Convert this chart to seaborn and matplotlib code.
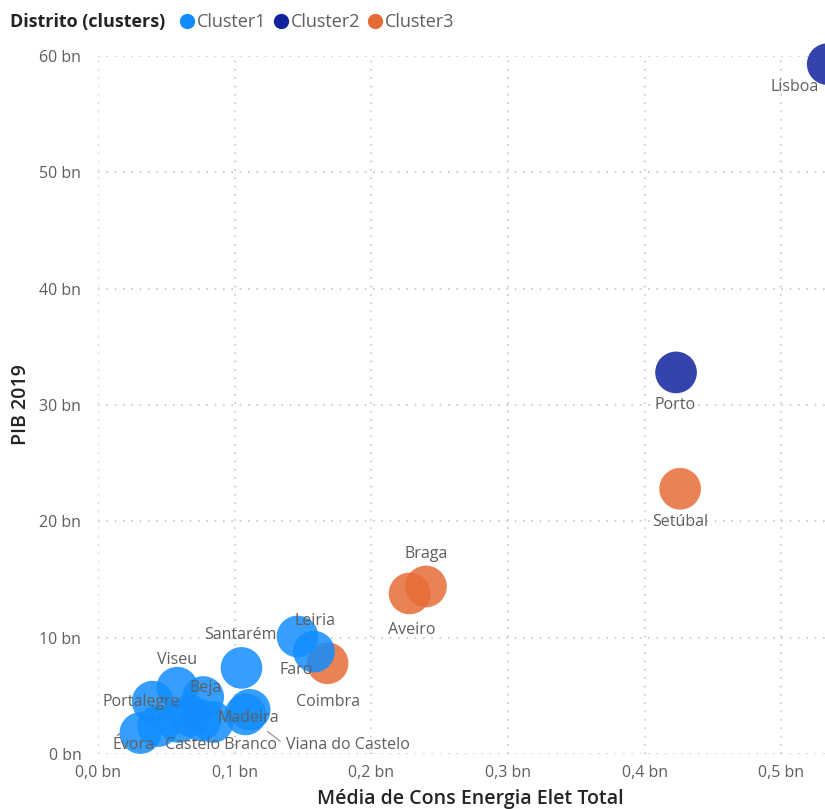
"""
PIB 2019 vs média de consumo de energia elétrica por distrito (clusters)
"""

import pandas as pd
import numpy as np
import matplotlib
matplotlib.use('Agg')
import matplotlib.pyplot as plt
from matplotlib.lines import Line2D
import seaborn as sns

# Data
distritos = ['Lisboa', 'Porto', 'Setúbal', 'Braga', 'Aveiro', 'Coimbra',
             'Leiria', 'Faro', 'Santarém', 'Madeira', 'Viana do Castelo',
             'Viseu', 'Beja', 'Portalegre', 'Évora', 'Castelo Branco',
             'Bragança', 'Guarda', 'Vila Real', 'Açores']
energia = [0.534, 0.423, 0.426, 0.240, 0.228, 0.168,
           0.146, 0.158, 0.105, 0.111, 0.108,
           0.058, 0.077, 0.040, 0.031, 0.084,
           0.044, 0.059, 0.075, 0.067]
pib = [59.3, 32.8, 22.8, 14.4, 13.8, 7.8,
       10.1, 8.8, 7.4, 3.8, 3.4,
       5.7, 4.9, 4.5, 1.8, 2.75,
       2.4, 2.75, 2.9, 3.3]
cluster = ['Cluster2', 'Cluster2', 'Cluster3', 'Cluster3', 'Cluster3', 'Cluster3',
           'Cluster1', 'Cluster1', 'Cluster1', 'Cluster1', 'Cluster1',
           'Cluster1', 'Cluster1', 'Cluster1', 'Cluster1', 'Cluster1',
           'Cluster1', 'Cluster1', 'Cluster1', 'Cluster1']
clusters = ['Cluster1', 'Cluster2', 'Cluster3']
x_ticks = [0.0, 0.1, 0.2, 0.3, 0.4, 0.5]
y_ticks = [0, 10, 20, 30, 40, 50, 60]

df = pd.DataFrame({'Distrito': distritos, 'Energia': energia,
                   'PIB': pib, 'Cluster': cluster})

# Label offsets in pixels relative to the bubble (unlisted = no label)
label_offsets = {
    'Lisboa': (-33, -23), 'Porto': (-1, -33), 'Setúbal': (0, -33),
    'Braga': (0, 32), 'Aveiro': (2, -37), 'Coimbra': (0, -39),
    'Leiria': (17, 16), 'Faro': (-18, -18), 'Santarém': (-1, 33),
    'Madeira': (-1, -8), 'Viana do Castelo': (102, -31),
    'Viseu': (0, 28), 'Beja': (2, 9), 'Portalegre': (-11, 0),
    'Évora': (-7, -12), 'Castelo Branco': (8, -23),
}

palette = {'Cluster1': '#118DFF', 'Cluster2': '#12239E', 'Cluster3': '#E66C37'}
tick_color = '#605E5C'
title_color = '#252423'

sns.set_style('white')
plt.rcParams['font.family'] = ['Open Sans', 'DejaVu Sans']

fig = plt.figure(figsize=(8.25, 8.09), dpi=100)
ax = fig.add_axes([98 / 825, 1 - 754 / 809, 1 - 98 / 825, (754 - 56) / 809])

sns.scatterplot(data=df, x='Energia', y='PIB', hue='Cluster', palette=palette,
                hue_order=clusters, s=900, alpha=0.85, linewidth=0,
                legend=False, ax=ax, clip_on=False, zorder=3)

# Data labels
for _, row in df.iterrows():
    off = label_offsets.get(row['Distrito'])
    if off is None:
        continue
    if row['Distrito'] == 'Viana do Castelo':
        ax.annotate(row['Distrito'], (row['Energia'], row['PIB']),
                    xytext=off, textcoords='offset pixels',
                    ha='center', va='center', fontsize=11.5, color=tick_color,
                    zorder=5, annotation_clip=False,
                    arrowprops=dict(arrowstyle='-', color='#A19F9D', lw=1,
                                    shrinkA=2, shrinkB=20,
                                    relpos=(0.0, 0.5)))
    else:
        ax.annotate(row['Distrito'], (row['Energia'], row['PIB']),
                    xytext=off, textcoords='offset pixels',
                    ha='center', va='center', fontsize=11.5, color=tick_color,
                    zorder=5, annotation_clip=False)

# Axes styling
ax.set_xlim(0, 0.532)
ax.set_ylim(0, 60)
ax.set_xticks(x_ticks)
ax.set_xticklabels([f'{t:.1f} bn'.replace('.', ',') for t in x_ticks])
ax.set_yticks(y_ticks)
ax.set_yticklabels([f'{t} bn' for t in y_ticks])
ax.tick_params(axis='both', length=0, labelsize=11.5, labelcolor=tick_color)
ax.tick_params(axis='y', pad=12)
ax.tick_params(axis='x', pad=8)
for s in ax.spines.values():
    s.set_visible(False)
ax.grid(True, color='#C8C6C4', linestyle=(0, (1, 4)), linewidth=1.2)
ax.set_axisbelow(True)
ax.set_xlabel('Média de Cons Energia Elet Total', fontsize=14,
              fontweight='semibold', color=title_color, labelpad=6)
ax.xaxis.label.set_x(0.512)
ax.set_ylabel('PIB 2019', fontsize=14, fontweight='semibold',
              color=title_color, labelpad=6)

# Legend across the top
fig.text(10 / 825, 1 - 22 / 809, 'Distrito (clusters)', fontsize=13,
         fontweight='bold', color=title_color, va='center', ha='left')
handles = [Line2D([], [], marker='o', linestyle='', markersize=11,
                  markerfacecolor=palette[c], markeredgewidth=0)
           for c in clusters]
fig.legend(handles, clusters, loc='center left',
           bbox_to_anchor=(177 / 825, 1 - 22 / 809), ncol=3, frameon=False,
           fontsize=13, labelcolor=tick_color, handletextpad=0.0,
           columnspacing=0.25, handlelength=1.1, borderaxespad=0, borderpad=0)

plt.savefig('out.png', dpi=100)
